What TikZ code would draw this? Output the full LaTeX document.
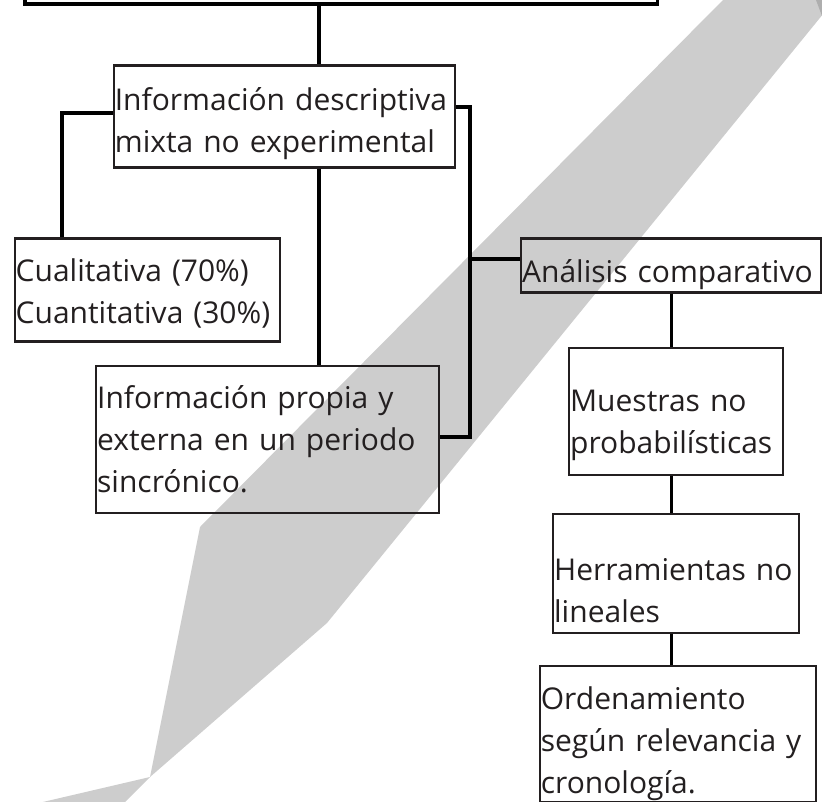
\documentclass[tikz,border=0pt]{standalone}
\usepackage{fontspec}
\setmainfont{Open Sans}
\definecolor{band}{RGB}{205,205,205}
\definecolor{ink}{RGB}{35,31,32}

\begin{document}
\begin{tikzpicture}[x=1pt,y=-1pt,
    box/.style={draw=ink,line width=2.3pt,anchor=north west,inner xsep=1pt,inner ysep=0pt,
      align=left,text=ink,font=\fontsize{30}{42}\selectfont},
    link/.style={line width=3.3pt}]
  \useasboundingbox (0,0) rectangle (822,802);
  \clip (0,0) rectangle (822,802);
  % franja gris de fondo
  \fill[band] (723,0) -- (834.5,0) -- (327,623) -- (150,777) -- (200,527) -- cycle;
  \fill[band] (150,777) -- (30,805) -- (122,805) -- cycle;
  \fill[band!85!black] (816,0) -- (822,0) -- (822,16) -- cycle;
  % cajas
  \node[draw=black,line width=3.3pt,anchor=south west,minimum width=632.2,minimum height=46] (root) at (23.3,5.7) {};
  \node[box,minimum width=340.8,minimum height=102,text width=338.8,text height=36] (desc) at (112.7,64.5)
    {Información descriptiva\\mixta no experimental};
  \node[box,minimum width=265.5,minimum height=103,text width=263.5,text height=29] (cual) at (13.5,237.5)
    {Cualitativa (70\%)\\Cuantitativa (30\%)};
  \node[box,minimum width=343,minimum height=147,text width=341] (propia) at (95,365)
    {Información propia y\\externa en un periodo\\sincrónico.};
  \node[box,minimum width=299.5,minimum height=54,text width=297.5,text height=42] (analisis) at (520,237.3)
    {Análisis comparativo};
  \node[box,minimum width=214,minimum height=127.5,text width=212,text height=50] (muestras) at (568,346.5)
    {Muestras no\\probabilísticas};
  \node[box,minimum width=246,minimum height=119,text width=244,text height=56] (herr) at (552,512.5)
    {Herramientas no\\lineales};
  \node[box,minimum width=276,minimum height=136,text width=274,text height=43] (orden) at (538.7,664.7)
    {Ordenamiento\\según relevancia y\\cronología.};
  % conectores
  \coordinate (trunk) at (319,0);
  \coordinate (lknee) at (62,113);
  \coordinate (rknee) at (470,107);
  \coordinate (rtee) at (470,259);
  \coordinate (rfoot) at (470,437);
  \coordinate (spine) at (671.5,0);
  \draw[link] (root.south -| trunk) -- (desc.north -| trunk);
  \draw[link] (desc.south -| trunk) -- (propia.north -| trunk);
  \draw[link,line width=4pt] (desc.west |- lknee) -- (lknee) -- (lknee |- cual.north);
  \draw[link] (desc.east |- rknee) -- (rknee) -- (rfoot) -- (propia.east |- rfoot);
  \draw[link] (rtee) -- (analisis.west |- rtee);
  \draw[link] (analisis.south -| spine) -- (muestras.north -| spine);
  \draw[link] (muestras.south -| spine) -- (herr.north -| spine);
  \draw[link] (herr.south -| spine) -- (orden.north -| spine);
\end{tikzpicture}
\end{document}
